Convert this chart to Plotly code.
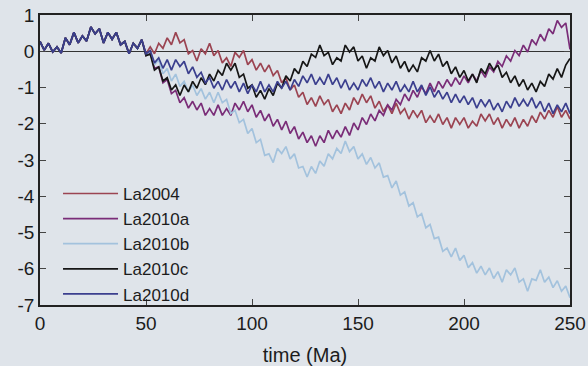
import plotly.graph_objects as go

# time axis (Ma), sampled every 2 Ma
time = list(range(0, 252, 2))

# common segment 0-48 Ma (all solutions overlap)
common_0_48 = [0.27, 0.03, 0.22, -0.02, 0.12, -0.05, 0.37, 0.18, 0.52, 0.23,
               0.42, 0.28, 0.67, 0.48, 0.62, 0.23, 0.52, 0.33, 0.52, 0.18,
               0.27, -0.07, 0.22, 0.08, 0.32]

# 50-250 Ma for each solution
la2004_tail = [-0.07, 0.12, -0.07, 0.22, 0.08, 0.37, 0.18, 0.52, 0.23, 0.32,
               -0.07, 0.02, -0.27, 0.07, -0.07, 0.22, -0.12, 0.02, -0.32, -0.18,
               -0.42, -0.03, -0.17, 0.02, -0.37, -0.23, -0.52, -0.33, -0.57, -0.38,
               -0.67, -0.53, -0.87, -0.73, -1.07, -0.93, -1.27, -1.13, -1.47, -1.28,
               -1.52, -1.23, -1.47, -1.33, -1.67, -1.48, -1.72, -1.43, -1.62, -1.28,
               -1.47, -1.18, -1.42, -1.23, -1.57, -1.38, -1.67, -1.48, -1.72, -1.43,
               -1.72, -1.58, -1.87, -1.63, -1.82, -1.63, -1.97, -1.78, -1.97, -1.73,
               -2.02, -1.83, -2.12, -1.83, -2.02, -1.83, -2.12, -1.93, -2.07, -1.73,
               -1.92, -1.73, -2.02, -1.83, -2.12, -1.88, -2.07, -1.83, -2.12, -1.88,
               -2.07, -1.78, -1.97, -1.68, -1.87, -1.63, -1.82, -1.53, -1.82, -1.63,
               -1.87]

la2010a_tail = [-0.12, -0.03, -0.47, -0.43, -0.87, -0.78, -1.17, -1.08, -1.42, -1.28,
                -1.57, -1.38, -1.62, -1.43, -1.77, -1.58, -1.77, -1.48, -1.77, -1.58,
                -1.77, -1.43, -1.62, -1.38, -1.67, -1.48, -1.82, -1.63, -1.92, -1.73,
                -2.07, -1.88, -2.17, -1.93, -2.27, -2.08, -2.42, -2.23, -2.52, -2.33,
                -2.62, -2.33, -2.52, -2.18, -2.42, -2.18, -2.37, -2.08, -2.32, -1.98,
                -2.17, -1.83, -2.02, -1.73, -1.92, -1.63, -1.77, -1.48, -1.62, -1.33,
                -1.47, -1.18, -1.37, -1.08, -1.27, -0.98, -1.17, -0.88, -1.12, -0.83,
                -1.02, -0.78, -0.97, -0.73, -0.92, -0.68, -0.87, -0.63, -0.82, -0.53,
                -0.72, -0.43, -0.57, -0.28, -0.42, -0.13, -0.27, 0.02, -0.12, 0.17,
                -0.02, 0.32, 0.18, 0.47, 0.28, 0.62, 0.48, 0.85, 0.66, 0.78,
                0.05]

la2010b_tail = [-0.12, 0.02, -0.37, -0.23, -0.62, -0.48, -0.82, -0.63, -0.97, -0.83,
                -1.12, -0.93, -1.22, -1.03, -1.32, -1.13, -1.42, -1.13, -1.42, -1.33,
                -1.72, -1.63, -1.97, -1.88, -2.27, -2.13, -2.52, -2.43, -2.87, -2.83,
                -3.07, -2.68, -2.82, -2.63, -2.97, -2.83, -3.22, -3.18, -3.47, -3.18,
                -3.37, -3.03, -3.17, -2.83, -2.97, -2.68, -2.82, -2.48, -2.77, -2.63,
                -2.97, -2.83, -3.12, -2.93, -3.22, -3.08, -3.47, -3.43, -3.77, -3.58,
                -3.97, -3.88, -4.27, -4.18, -4.57, -4.48, -4.87, -4.78, -5.17, -5.13,
                -5.52, -5.43, -5.67, -5.43, -5.77, -5.63, -5.97, -5.83, -6.12, -5.93,
                -6.17, -5.98, -6.27, -6.08, -6.37, -6.03, -6.17, -5.98, -6.37, -6.28,
                -6.62, -6.28, -6.32, -6.03, -6.37, -6.23, -6.52, -6.33, -6.62, -6.48,
                -6.8]

la2010c_tail = [-0.12, -0.08, -0.52, -0.43, -0.82, -0.73, -1.07, -0.93, -1.22, -0.93,
                -1.12, -0.83, -1.02, -0.73, -0.92, -0.63, -0.82, -0.53, -0.67, -0.33,
                -0.52, -0.33, -0.72, -0.63, -1.02, -0.93, -1.27, -1.08, -1.32, -1.03,
                -1.22, -0.88, -1.02, -0.68, -0.82, -0.48, -0.62, -0.28, -0.42, -0.08,
                -0.17, 0.17, -0.12, -0.03, -0.37, -0.18, -0.27, 0.17, -0.02, 0.12,
                -0.27, -0.13, -0.47, -0.18, -0.27, 0.12, -0.12, 0.02, -0.32, -0.13,
                -0.47, -0.28, -0.57, -0.38, -0.57, -0.18, -0.27, 0.02, -0.27, -0.08,
                -0.42, -0.28, -0.62, -0.43, -0.72, -0.53, -0.82, -0.63, -0.87, -0.48,
                -0.62, -0.33, -0.52, -0.38, -0.72, -0.58, -0.87, -0.68, -0.97, -0.78,
                -1.07, -0.88, -1.12, -0.83, -0.97, -0.63, -0.77, -0.48, -0.72, -0.38,
                -0.2]

la2010d_tail = [-0.07, 0.02, -0.32, -0.18, -0.47, -0.23, -0.52, -0.23, -0.42, -0.28,
                -0.62, -0.43, -0.72, -0.58, -0.87, -0.73, -1.02, -0.83, -1.07, -0.78,
                -1.02, -0.83, -1.12, -0.88, -1.17, -0.93, -1.12, -0.83, -1.12, -0.93,
                -1.12, -0.83, -1.02, -0.83, -1.07, -0.78, -0.97, -0.68, -0.87, -0.63,
                -0.92, -0.73, -0.92, -0.63, -0.92, -0.73, -1.02, -0.78, -1.07, -0.88,
                -1.07, -0.78, -0.97, -0.73, -1.02, -0.83, -1.12, -0.88, -1.07, -0.83,
                -1.12, -0.93, -1.12, -0.83, -1.12, -0.93, -1.22, -0.98, -1.27, -1.08,
                -1.32, -1.13, -1.42, -1.18, -1.42, -1.23, -1.47, -1.28, -1.57, -1.33,
                -1.52, -1.33, -1.62, -1.43, -1.67, -1.38, -1.57, -1.28, -1.52, -1.33,
                -1.52, -1.28, -1.57, -1.38, -1.67, -1.43, -1.72, -1.48, -1.67, -1.43,
                -1.72]

names = ["La2004", "La2010a", "La2010b", "La2010c", "La2010d"]
tails = [la2004_tail, la2010a_tail, la2010b_tail, la2010c_tail, la2010d_tail]
colors = ["#9b4452", "#7a2d78", "#a3c2dd", "#161616", "#3b3f8e"]

x_ticks = [0, 50, 100, 150, 200, 250]
y_ticks = [1, 0, -1, -2, -3, -4, -5, -6, -7]
y_ticktext = ["1", "0", "-1", "-2", "-3", "-4", "-5", "-6", "-7"]

fig = go.Figure()
for name, tail, col in zip(names, tails, colors):
    fig.add_trace(go.Scatter(x=time, y=common_0_48 + tail, mode="lines", name=name,
                             line=dict(color=col, width=1.7)))

fam = "Liberation Sans, Arial, sans-serif"
txt = "#1c1c1c"
bg = "#dfe4ea"
fig.update_layout(
    width=588, height=366,
    margin=dict(l=40, r=18, t=15, b=61, autoexpand=False),
    paper_bgcolor=bg, plot_bgcolor=bg,
    font=dict(family=fam, size=19, color=txt),
    showlegend=True,
    legend=dict(x=0.034, y=0.445, xanchor="left", yanchor="top",
                bgcolor="rgba(0,0,0,0)", itemwidth=55, tracegroupgap=0,
                font=dict(family=fam, size=17, color=txt)),
    xaxis=dict(range=[0, 250], tickvals=x_ticks, ticks="inside", ticklen=6,
               showline=True, mirror="ticks", linecolor="#222", linewidth=1.5,
               showgrid=False, zeroline=False, ticklabeloverflow="allow",
               automargin=False,
               tickfont=dict(family=fam, size=19, color=txt),
               title=dict(text="time (Ma)", standoff=16, font=dict(family=fam, size=20, color=txt))),
    yaxis=dict(range=[-7, 1], tickvals=y_ticks, ticktext=y_ticktext, ticks="inside",
               ticklen=6, showline=True, mirror="ticks", linecolor="#222", linewidth=1.5,
               showgrid=False, zeroline=True, zerolinecolor="#333", zerolinewidth=1.2,
               automargin=False,
               tickfont=dict(family=fam, size=19, color=txt)),
)

fig.write_html("out.html")
